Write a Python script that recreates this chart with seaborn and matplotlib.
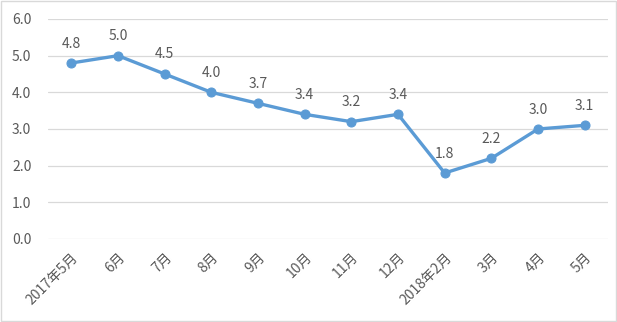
import matplotlib
matplotlib.use("Agg")
import matplotlib.pyplot as plt
import seaborn as sns
import pandas as pd
from matplotlib.patches import Rectangle

months = ["2017年5月", "6月", "7月", "8月", "9月", "10月", "11月", "12月",
          "2018年2月", "3月", "4月", "5月"]
values = [4.8, 5.0, 4.5, 4.0, 3.7, 3.4, 3.2, 3.4, 1.8, 2.2, 3.0, 3.1]
y_ticks = [0.0, 1.0, 2.0, 3.0, 4.0, 5.0, 6.0]

sns.set_theme(style="white")
plt.rcParams["font.family"] = ["Noto Sans CJK SC", "DejaVu Sans"]

line_color = "#5B9BD5"
text_color = "#595959"
grid_color = "#D9D9D9"

df = pd.DataFrame({"month": months, "value": values, "pos": range(len(months))})

fig = plt.figure(figsize=(6.17, 3.22), dpi=100)
ax = fig.add_axes([48 / 617, 1 - 239 / 322, 560 / 617, 220 / 322])

sns.lineplot(data=df, x="pos", y="value", ax=ax, color=line_color,
             linewidth=2.4, marker="o", markersize=6.5,
             markeredgecolor=line_color, markerfacecolor=line_color)

for x, v in zip(df["pos"], df["value"]):
    ax.annotate(f"{v:.1f}", (x, v), xytext=(0, 9), textcoords="offset points",
                ha="center", va="bottom", fontsize=10, color=text_color)

ax.set_xlim(-0.5, len(months) - 0.5)
ax.set_ylim(0, 6)
ax.set_yticks(y_ticks)
ax.set_yticklabels([f"{t:.1f}" for t in y_ticks])
ax.set_xticks(range(len(months)))
ax.set_xticklabels(months, rotation=45, ha="right", rotation_mode="anchor")
ax.tick_params(axis="both", length=0, labelsize=10, labelcolor=text_color)
ax.tick_params(axis="y", pad=12)
ax.tick_params(axis="x", pad=8)
ax.set_xlabel("")
ax.set_ylabel("")
ax.yaxis.grid(True, color=grid_color, linewidth=0.9)
ax.xaxis.grid(False)
ax.set_axisbelow(True)
for s in ax.spines.values():
    s.set_visible(False)

fig.patches.append(Rectangle((0.0015, 0.003), 0.997, 0.994, transform=fig.transFigure,
                             fill=False, edgecolor="#D9D9D9", linewidth=1.0))

fig.savefig("out.png", dpi=100)
